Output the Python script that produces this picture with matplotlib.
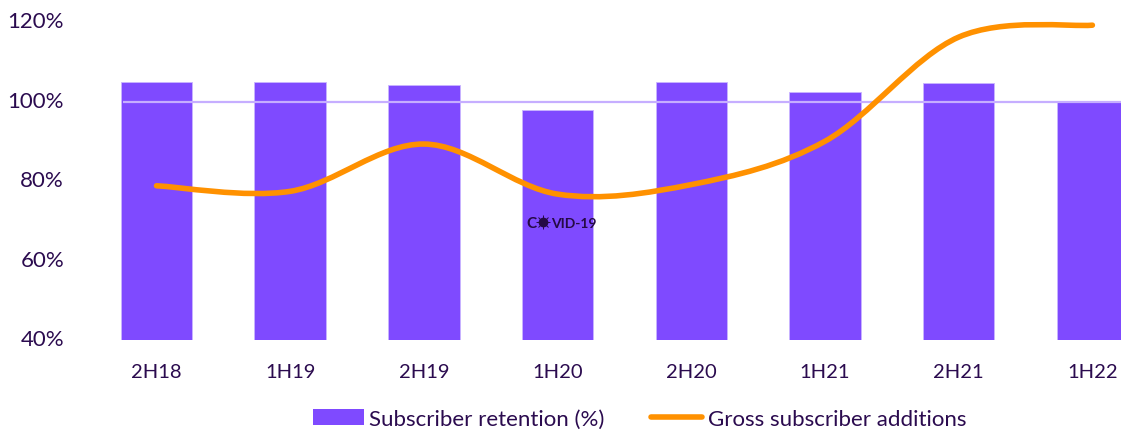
import numpy as np
import matplotlib
matplotlib.use('Agg')
import matplotlib.pyplot as plt
from matplotlib.path import Path
from matplotlib.patches import PathPatch, Patch
from matplotlib.lines import Line2D
from matplotlib.transforms import ScaledTranslation

periods = ['2H18', '1H19', '2H19', '1H20', '2H20', '1H21', '2H21', '1H22']
retention = [104.8, 105.0, 104.2, 97.9, 105.0, 102.3, 104.6, 99.9]
gross_additions = [78.8, 77.4, 89.3, 76.7, 79.1, 90.0, 116.2, 119.2]

PURPLE = '#7f4aff'
ORANGE = '#ff9100'
TEXT = '#2b0b4f'
GRID = '#c6aeff'
ICON = '#250a45'

plt.rcParams['font.family'] = ['Lato', 'DejaVu Sans']

W, H = 1121, 431
fig = plt.figure(figsize=(W / 100, H / 100), dpi=100)
ax = fig.add_axes([80 / W, (H - 341) / H, (W - 80) / W, 341 / H])

x = np.arange(len(periods))
ax.bar(x, retention, width=0.535, color=PURPLE, edgecolor='#c9b5ff', linewidth=0.6, zorder=2)
ax.hlines(100, -0.25, 7.3, color=GRID, linewidth=1.6, zorder=3)


# smooth line through the points, same idea as a spreadsheet smoothed line
def smooth_path(xs, ys):
    pts = np.column_stack([xs, ys])
    verts = [pts[0]]
    codes = [Path.MOVETO]
    for i in range(len(pts) - 1):
        p0 = pts[max(i - 1, 0)]
        p1 = pts[i]
        p2 = pts[i + 1]
        p3 = pts[min(i + 2, len(pts) - 1)]
        verts += [p1 + (p2 - p0) / 6, p2 - (p3 - p1) / 6, p2]
        codes += [Path.CURVE4] * 3
    return Path(verts, codes)


ax.add_patch(PathPatch(smooth_path(x, gross_additions), fill=False, edgecolor=ORANGE,
                       linewidth=4, capstyle='round', zorder=4))

# COVID-19 label, the O is a small virus icon
ax.text(2.768, 69.5, 'C', ha='left', va='center', fontsize=11, fontweight='bold', color=ICON, zorder=5)
ax.text(2.951, 69.5, 'VID-19', ha='left', va='center', fontsize=10, fontweight='bold', color=ICON, zorder=5)
ax.plot([2.891], [69.7], marker='o', markersize=6, color=ICON, zorder=5)
ax.plot([2.891], [69.7], marker='+', markersize=10, markeredgewidth=0.7, color=ICON, zorder=5)
ax.plot([2.891], [69.7], marker='x', markersize=7.5, markeredgewidth=0.7, color=ICON, zorder=5)

ax.set_xlim((80 - 156.5) / 133.7, (W - 156.5) / 133.7)
ax.set_ylim(40, 40 + 341 / 3.975)
ax.set_xticks(x)
ax.set_xticklabels(periods)
ax.set_yticks([40, 60, 80, 100, 120])
ax.set_yticklabels(['40%', '60%', '80%', '100%', '120%'])
ax.tick_params(axis='x', length=0, labelsize=14.5, labelcolor=TEXT, pad=16.5)
ax.tick_params(axis='y', length=0, labelsize=16, labelcolor=TEXT, pad=11.5)
shift = ScaledTranslation(0, 2.5 / 100, fig.dpi_scale_trans)
for label in ax.get_yticklabels():
    label.set_transform(label.get_transform() + shift)
for spine in ax.spines.values():
    spine.set_visible(False)

handles = [Patch(facecolor=PURPLE, edgecolor='none'),
           Line2D([0], [0], color=ORANGE, linewidth=4, solid_capstyle='round')]
fig.legend(handles, ['Subscriber retention (%)', 'Gross subscriber additions'],
           loc='lower center', bbox_to_anchor=(639.5 / W, 1 / H), ncol=2, frameon=False,
           fontsize=16, labelcolor=TEXT, handlelength=2.3, handleheight=0.7,
           handletextpad=0.25, columnspacing=2.1, borderpad=0, borderaxespad=0)

fig.savefig('out.png', dpi=100)
